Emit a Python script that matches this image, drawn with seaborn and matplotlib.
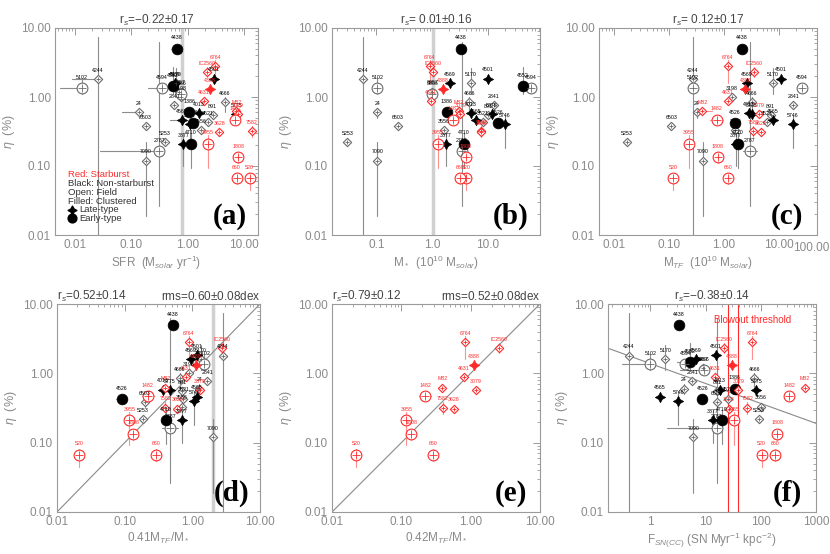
import numpy as np
import matplotlib
matplotlib.use("Agg")
import matplotlib.pyplot as plt
import matplotlib.ticker as mticker
import seaborn as sns
import pandas as pd

sns.set_theme(style="white")
plt.rcParams['font.family'] = ['Liberation Sans', 'DejaVu Sans']
plt.rcParams['mathtext.fontset'] = 'custom'
plt.rcParams['mathtext.rm'] = 'Liberation Sans'
plt.rcParams['mathtext.it'] = 'Liberation Sans:italic'

# galaxy sample
names = ["4438", "6764", "IC2560", "4501", "4244", "4569", "5170", "4552", "5102", "4594",
         "4388", "3957", "5866", "3198", "4631", "4666", "2841", "M82", "24", "1386",
         "4013", "5775", "891", "3079", "1482", "4565", "3521", "4526", "5746", "6503",
         "3556", "7582", "3628", "5253", "3877", "4710", "3955", "2787", "1808", "7090",
         "520", "660"]
eta = [5.0, 2.8, 2.3, 1.85, 1.8, 1.6, 1.6, 1.45, 1.35, 1.35,
       1.3, 1.2, 1.1, 1.0, 0.88, 0.85, 0.77, 0.62, 0.6, 0.6,
       0.58, 0.57, 0.55, 0.57, 0.47, 0.46, 0.43, 0.42, 0.4, 0.38,
       0.33, 0.32, 0.31, 0.22, 0.21, 0.21, 0.21, 0.165, 0.135, 0.12,
       0.067, 0.067]
eta_lo = [4.6, 1.6, 1.95, 1.6, 0.001, 1.4, 1.1, 1.1, 1.1, 1.2,
          1.15, 1.05, 0.95, 0.9, 0.8, 0.6, 0.68, 0.56, 0.5, 0.55,
          0.52, 0.5, 0.5, 0.5, 0.4, 0.4, 0.38, 0.36, 0.18, 0.33,
          0.29, 0.26, 0.27, 0.2, 0.1, 0.095, 0.093, 0.026, 0.11, 0.019,
          0.045, 0.055]
eta_hi = [5.4, 3.4, 2.7, 2.1, 7.3, 1.8, 2.6, 2.7, 1.9, 1.5,
          1.45, 1.35, 1.25, 1.1, 0.97, 1.0, 0.87, 0.68, 0.7, 0.66,
          0.64, 0.64, 0.6, 0.64, 0.55, 0.52, 0.48, 0.48, 0.55, 0.43,
          0.37, 0.38, 0.35, 0.24, 0.3, 0.3, 0.28, 6.2, 0.16, 0.22,
          0.08, 0.08]
starburst = [0, 1, 1, 0, 0, 0, 0, 0, 0, 0,
             1, 0, 0, 0, 1, 0, 0, 1, 0, 0,
             0, 0, 0, 1, 1, 0, 0, 0, 0, 0,
             0, 1, 1, 0, 0, 0, 1, 0, 1, 0,
             1, 1]
early = [1, 0, 0, 0, 0, 0, 0, 1, 1, 1,
         0, 0, 1, 0, 0, 0, 0, 0, 0, 1,
         0, 0, 0, 0, 1, 0, 0, 1, 0, 0,
         0, 0, 0, 0, 0, 1, 1, 1, 1, 0,
         1, 1]
cluster = [1, 0, 0, 1, 0, 1, 0, 1, 0, 0,
           1, 0, 0, 0, 0, 0, 0, 0, 0, 1,
           1, 1, 0, 0, 0, 1, 0, 1, 1, 0,
           0, 0, 0, 0, 1, 1, 0, 0, 0, 0,
           0, 0]

N = None
sfr = [0.65, 3.1, 2.2, 2.9, 0.026, 0.6, 0.62, 0.54, 0.0135, 0.345,
       2.5, 0.71, 0.76, 0.75, 1.95, 4.6, 0.58, 7.2, 0.136, 1.07,
       1.6, 7.2, 2.75, 7.6, 6.9, 0.8, 2.3, 1.23, 1.1, 0.18,
       1.7, 13.7, 3.6, 0.4, 0.84, 1.15, 2.3, 0.316, 7.9, 0.18,
       12.4, 7.3]
mstar = [3.3, 0.9, 1.05, 10, 0.057, 2.07, 4.9, 42, 0.104, 58,
         1.57, 1.0, 1.0, N, 0.95, 4.6, 12.7, 3.0, 0.104, 1.8,
         5.0, 11.6, 10, 3.2, 2.35, 6.0, 8.1, 15, 20, 0.24,
         1.6, 7.6, 7.6, 0.03, 1.75, 3.7, 1.25, 3.4, 4.0, 0.104,
         4.0, 3.2]
mtf = [2.1, 1.17, 3.5, 11, 0.27, 2.6, 7.6, N, 0.27, 26,
       2.45, N, N, 1.4, 1.17, 3.2, 18, 0.4, 0.32, N,
       2.8, 3.2, 7, 4.3, 0.74, 7.6, 6, 1.55, 18, 0.11,
       1.6, 3.4, 4.6, 0.017, 1.65, 1.8, 0.23, 2.9, 0.76, 0.41,
       0.12, 1.2]
ratio41 = [0.51, 0.88, 2.7, 1.17, 2.8, 0.95, 1.35, N, 1.5, N,
           1.13, N, N, 0.9, 0.8, 0.66, 1.66, 0.4, 1.26, N,
           0.37, 0.47, 0.7, 1.3, 0.22, 1.17, 0.74, 0.091, 1.07, 0.2,
           0.7, 0.4, 0.6, 0.185, 0.7, 0.41, 0.117, 0.47, 0.135, 2.0,
           0.021, 0.29]
ratio42 = [N, 0.84, 2.6, N, N, N, N, N, N, N,
           1.1, N, N, N, 0.8, N, N, 0.39, N, N,
           N, N, N, 1.2, 0.22, N, N, N, N, N,
           N, 0.4, 0.57, N, N, N, 0.118, N, 0.14, N,
           0.022, 0.29]
fsn = [3.3, 70, 21.5, 15.6, 0.4, 6.6, 1.87, 5.2, 1.0, 4.3,
       30, 9.0, 9.3, N, 14.5, 76, 5.7, 630, 4.0, 34,
       18, 83, 16, 39, 330, 1.48, 25, 8.7, 3.2, 16,
       100, 57, 26, 93, 13.6, 20, 32, 16, 200, 6.0,
       103, 180]

# horizontal error bars that are visible (lo, hi)
sfr_err = {"5102": (0.0055, 0.0135), "4244": (0.009, 0.03), "24": (0.07, 0.136),
           "2787": (0.028, 0.316), "4594": (0.2, 0.345), "4552": (0.38, 0.6),
           "4565": (0.48, 0.8), "4438": (0.5, 0.7)}
mtf_err = {"M82": (0.4, 0.6), "1482": (0.55, 0.95), "2787": (2.2, 4.0), "4438": (1.8, 2.4)}
r41_err = {"4526": (0.075, 0.11), "2787": (0.36, 0.62), "1482": (0.18, 0.27), "4438": (0.45, 0.6)}
r42_err = {"1482": (0.18, 0.27)}
fsn_err = {"5102": (0.3, 1.0), "2787": (2.0, 16), "4552": (3.0, 5.2), "5866": (3.5, 10)}

df = pd.DataFrame(dict(name=names, eta=eta, lo=eta_lo, hi=eta_hi, sb=starburst,
                       early=early, clus=cluster, sfr=sfr, mstar=mstar, mtf=mtf,
                       r41=ratio41, r42=ratio42, fsn=fsn))

RED = "#ff2a2a"
RED_ERR = "#ff9090"
GREY_ERR = "#8c8c8c"
AXC = "#9a9a9a"
TXT = "#8a8a8a"


def draw_panel(ax, col, xerr_map, only_sb=False):
    d = df.dropna(subset=[col])
    if only_sb:
        d = d[d.sb == 1]
    for _, r in d.iterrows():
        ec = RED_ERR if r.sb else GREY_ERR
        ax.plot([r[col], r[col]], [r.lo, r.hi], color=ec, lw=0.8, zorder=2)
        if r['name'] in xerr_map:
            lo, hi = xerr_map[r['name']]
            ax.plot([lo, hi], [r.eta, r.eta], color=ec, lw=0.8, zorder=2)
    for sb in (0, 1):
        for e in (0, 1):
            for c in (0, 1):
                g = d[(d.sb == sb) & (d.early == e) & (d.clus == c)]
                if len(g) == 0:
                    continue
                col_m = RED if sb else ("black" if c else "#6a6a6a")
                if e:
                    mk, s = "o", 60
                else:
                    mk, s = ("D", 18) if not c else ((4, 1, 0), 55)
                if c:
                    sns.scatterplot(data=g, x=col, y="eta", ax=ax, marker=mk, s=s,
                                    color=col_m, edgecolor=col_m, linewidth=0.5,
                                    legend=False, zorder=4)
                else:
                    sns.scatterplot(data=g, x=col, y="eta", ax=ax, marker=mk, s=s,
                                    facecolor="white", edgecolor=col_m,
                                    linewidth=0.8, legend=False, zorder=4)
                    sns.scatterplot(data=g, x=col, y="eta", ax=ax, marker="+",
                                    s=s * 0.6, color=col_m, linewidth=0.6,
                                    legend=False, zorder=5)
    for _, r in d.iterrows():
        ax.annotate(r['name'], (r[col], r.eta), xytext=(0, 4.5 if not r.early else 6),
                    textcoords="offset points", ha="center", va="bottom",
                    fontsize=3.8, color=RED if r.sb else "black", zorder=6)


def style_axes(ax, xlim, xfmt, xlabel):
    ax.set_xscale("log")
    ax.set_yscale("log")
    ax.set_xlim(*xlim)
    ax.set_ylim(0.01, 10)
    ax.xaxis.set_major_formatter(mticker.FormatStrFormatter(xfmt))
    ax.yaxis.set_major_formatter(mticker.FormatStrFormatter("%.2f"))
    ax.xaxis.set_major_locator(mticker.LogLocator(base=10))
    ax.tick_params(which="both", direction="in", top=True, right=True,
                   colors=AXC, labelcolor=TXT, labelsize=8.5, pad=3)
    ax.tick_params(which="major", length=5, width=0.7)
    ax.tick_params(which="minor", length=2.5, width=0.6)
    for sp in ax.spines.values():
        sp.set_color(AXC)
        sp.set_linewidth(0.8)
    ax.set_xlabel(xlabel, color=TXT, fontsize=8.5, labelpad=2)
    ax.set_ylabel(r"$\eta$  (%)", color=TXT, fontsize=9, labelpad=3)
    ax.grid(False)


fig = plt.figure(figsize=(8.3, 5.54), dpi=100)
W, H = 830, 554


def add(l, t, r, b):
    return fig.add_axes([l / W, 1 - b / H, (r - l) / W, (b - t) / H])


axa = add(55, 28, 258, 235)
axb = add(332, 28, 540, 235)
axc = add(599, 28, 817, 235)
axd = add(57, 304, 260, 512)
axe = add(332, 304, 540, 512)
axf = add(608, 304, 816, 512)

# thick pale vertical bars
axa.axvline(0.8, color="#d0d0d0", lw=2.5, zorder=1)
axb.axvline(1.05, color="#d0d0d0", lw=2.5, zorder=1)
axd.axvline(2.05, color="#d0d0d0", lw=2.5, zorder=1)

draw_panel(axa, "sfr", sfr_err)
draw_panel(axb, "mstar", {})
draw_panel(axc, "mtf", mtf_err)
draw_panel(axd, "r41", r41_err)
draw_panel(axe, "r42", r42_err, only_sb=True)
draw_panel(axf, "fsn", fsn_err)

style_axes(axa, (0.0045, 17.5), "%.2f", r"SFR  (M$_{solar}$ yr$^{-1}$)")
style_axes(axb, (0.016, 85), "%.1f", r"M$_*$  (10$^{10}$ M$_{solar}$)")
style_axes(axc, (0.0053, 49), "%.2f", r"M$_{TF}$  (10$^{10}$ M$_{solar}$)")
style_axes(axd, (0.01, 10), "%.2f", r"0.41M$_{TF}$/M$_*$")
style_axes(axe, (0.01, 10), "%.2f", r"0.42M$_{TF}$/M$_*$")
style_axes(axf, (0.17, 1000), "%d", r"F$_{SN(CC)}$ (SN Myr$^{-1}$ kpc$^{-2}$)")

# the last decade label of panel c sits at the right edge of the figure
axc.text(1.055, -0.035, "100.00", transform=axc.transAxes, ha="right", va="top",
         fontsize=8.5, color=TXT, clip_on=False)

# one-to-one lines
one = [0.01, 10]
axd.plot(one, one, color="#8a8a8a", lw=0.8, zorder=1)
axe.plot(one, one, color="#8a8a8a", lw=0.8, zorder=1)

# fit in panel f and blowout threshold
fit_x = [0.17, 1000]
fit_y = [2.3, 0.19]
axf.plot(fit_x, fit_y, color="#8a8a8a", lw=0.8, zorder=1)
blowout = [25, 39]
for b in blowout:
    axf.axvline(b, color=RED, lw=0.8, zorder=1)
axf.text(0.88, 0.925, "Blowout threshold", transform=axf.transAxes, ha="right",
         va="center", color=RED, fontsize=7)

tc = "#444444"
axa.set_title(r"r$_s$=$-$0.22$\pm$0.17", fontsize=8.5, color=tc, pad=3)
axb.set_title(r"r$_s$= 0.01$\pm$0.16", fontsize=8.5, color=tc, pad=3)
axc.set_title(r"r$_s$= 0.12$\pm$0.17", fontsize=8.5, color=tc, pad=3)
axd.set_title(r"r$_s$=0.52$\pm$0.14", fontsize=8.5, color=tc, pad=3, loc="left")
axd.set_title(r"rms=0.60$\pm$0.08dex", fontsize=8.5, color=tc, pad=3, loc="right")
axe.set_title(r"r$_s$=0.79$\pm$0.12", fontsize=8.5, color=tc, pad=3, loc="left")
axe.set_title(r"rms=0.52$\pm$0.08dex", fontsize=8.5, color=tc, pad=3, loc="right")
axf.set_title(r"r$_s$=$-$0.38$\pm$0.14", fontsize=8.5, color=tc, pad=3)

for ax, lab in zip([axa, axb, axc, axd, axe, axf], "abcdef"):
    ax.text(0.86, 0.09, f"({lab})", transform=ax.transAxes, ha="center", va="center",
            fontsize=21, fontweight="bold", family="Liberation Serif", color="black")

# key in panel a
key = [("Red: Starburst", RED), ("Black: Non-starburst", "#333333"),
       ("Open: Field", "#333333"), ("Filled: Clustered", "#333333")]
y0 = 0.29
for i, (t, c) in enumerate(key):
    axa.text(0.065, y0 - i * 0.042, t, transform=axa.transAxes, fontsize=6.8,
             color=c, va="center")
axa.scatter([0.085], [y0 - 4 * 0.042], transform=axa.transAxes, marker=(4, 1, 0),
            s=40, color="black", zorder=6)
axa.text(0.12, y0 - 4 * 0.042, "Late-type", transform=axa.transAxes, fontsize=6.8,
         color="#333333", va="center")
axa.scatter([0.085], [y0 - 5 * 0.042], transform=axa.transAxes, marker="o",
            s=40, color="black", zorder=6)
axa.text(0.12, y0 - 5 * 0.042, "Early-type", transform=axa.transAxes, fontsize=6.8,
         color="#333333", va="center")

fig.savefig("out.png", dpi=100)
